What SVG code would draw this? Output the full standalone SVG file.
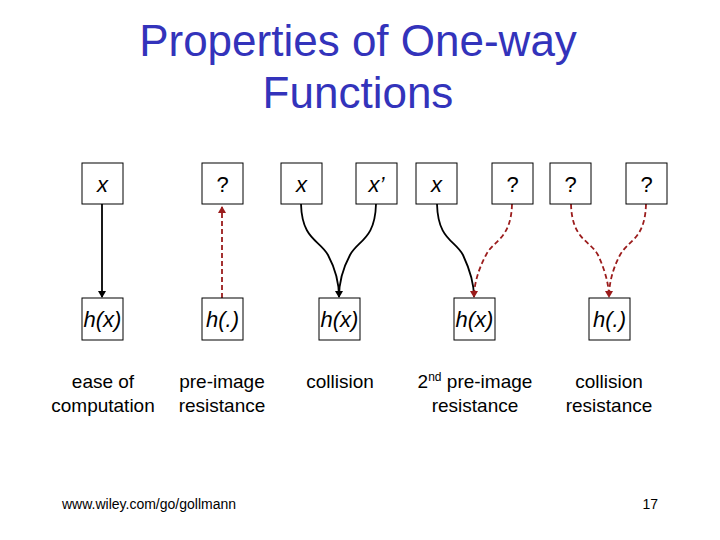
<svg xmlns="http://www.w3.org/2000/svg" width="720" height="540" viewBox="0 0 720 540">
<style>
.t{font-family:"Liberation Sans",Arial,sans-serif;}
.box{fill:#fff;stroke:#000;stroke-width:1}
.n{font-size:22px;text-anchor:middle}
.i{font-style:italic}
.lb{font-size:19px;text-anchor:middle}
.s{fill:none;stroke:#000;stroke-width:1.8}
.d{fill:none;stroke:#9b1c1c;stroke-width:1.8;stroke-dasharray:5,3}
</style>
<defs>
<marker id="ab" markerWidth="8" markerHeight="8" refX="6" refY="4" orient="auto" markerUnits="userSpaceOnUse"><path d="M0,0L7,4L0,8z" fill="#000"/></marker>
<marker id="ar" markerWidth="8" markerHeight="8" refX="6" refY="4" orient="auto" markerUnits="userSpaceOnUse"><path d="M0,0L7,4L0,8z" fill="#9b1c1c"/></marker>
</defs>
<rect width="720" height="540" fill="#fff"/>
<g class="t" fill="#3333bb" font-size="44" text-anchor="middle"><text x="358" y="56">Properties of One-way</text><text x="358" y="108">Functions</text></g>
<g id="connectors">
<path class="s" d="M102,204V297" marker-end="url(#ab)"/>
<path class="d" d="M222,298V207" marker-end="url(#ar)"/>
<path class="s" d="M301,204C302,240 320,240 328,255C336,270 339,285 339,297" marker-end="url(#ab)"/>
<path class="s" d="M376,204C375,240 358,240 350,255C342,270 339,285 339,297"/>
<path class="s" d="M437,204C438,240 455,240 463,255C470,270 474,285 474,297"/>
<path class="d" d="M512,204C511,240 493,240 486,255C478,270 474,285 474,297" marker-end="url(#ar)"/>
<path class="d" d="M571,204C572,240 590,240 598,255C605,270 609,285 609,297" marker-end="url(#ar)"/>
<path class="d" d="M646,204C645,240 628,240 620,255C612,270 609,285 609,297"/>
</g>
<g id="n1" class="t"><rect class="box" x="82" y="163" width="41" height="41"/><text class="n i" x="102.5" y="192">x</text></g>
<g id="n2" class="t"><rect class="box" x="202" y="163" width="41" height="41"/><text class="n" x="222.5" y="192">?</text></g>
<g id="n3" class="t"><rect class="box" x="281" y="163" width="41" height="41"/><text class="n i" x="301.5" y="192">x</text></g>
<g id="n4" class="t"><rect class="box" x="356" y="163" width="41" height="41"/><text class="n i" x="376.5" y="192">x’</text></g>
<g id="n5" class="t"><rect class="box" x="416" y="163" width="41" height="41"/><text class="n i" x="436.5" y="192">x</text></g>
<g id="n6" class="t"><rect class="box" x="492" y="163" width="41" height="41"/><text class="n" x="512.5" y="192">?</text></g>
<g id="n7" class="t"><rect class="box" x="550" y="163" width="41" height="41"/><text class="n" x="570.5" y="192">?</text></g>
<g id="n8" class="t"><rect class="box" x="626" y="163" width="41" height="41"/><text class="n" x="646.5" y="192">?</text></g>
<g id="b1" class="t"><rect class="box" x="82" y="298" width="41" height="42"/><text class="n i" x="102.5" y="327">h(x)</text></g>
<g id="b2" class="t"><rect class="box" x="202" y="298" width="41" height="42"/><text class="n i" x="222.5" y="327">h(.)</text></g>
<g id="b3" class="t"><rect class="box" x="319" y="298" width="41" height="42"/><text class="n i" x="339.5" y="327">h(x)</text></g>
<g id="b4" class="t"><rect class="box" x="454" y="298" width="41" height="42"/><text class="n i" x="474.5" y="327">h(x)</text></g>
<g id="b5" class="t"><rect class="box" x="589" y="298" width="41" height="42"/><text class="n i" x="609.5" y="327">h(.)</text></g>
<g class="t lb">
<text x="103" y="388">ease of</text><text x="103" y="412">computation</text>
<text x="222" y="388">pre-image</text><text x="222" y="412">resistance</text>
<text x="340" y="388">collision</text>
<text x="475" y="388">2<tspan font-size="12" dy="-7">nd</tspan><tspan dy="7"> pre-image</tspan></text><text x="475" y="412">resistance</text>
<text x="609" y="388">collision</text><text x="609" y="412">resistance</text>
</g>
<text class="t" x="62" y="509" font-size="14">www.wiley.com/go/gollmann</text>
<text class="t" x="658" y="509" font-size="14" text-anchor="end">17</text>
</svg>
